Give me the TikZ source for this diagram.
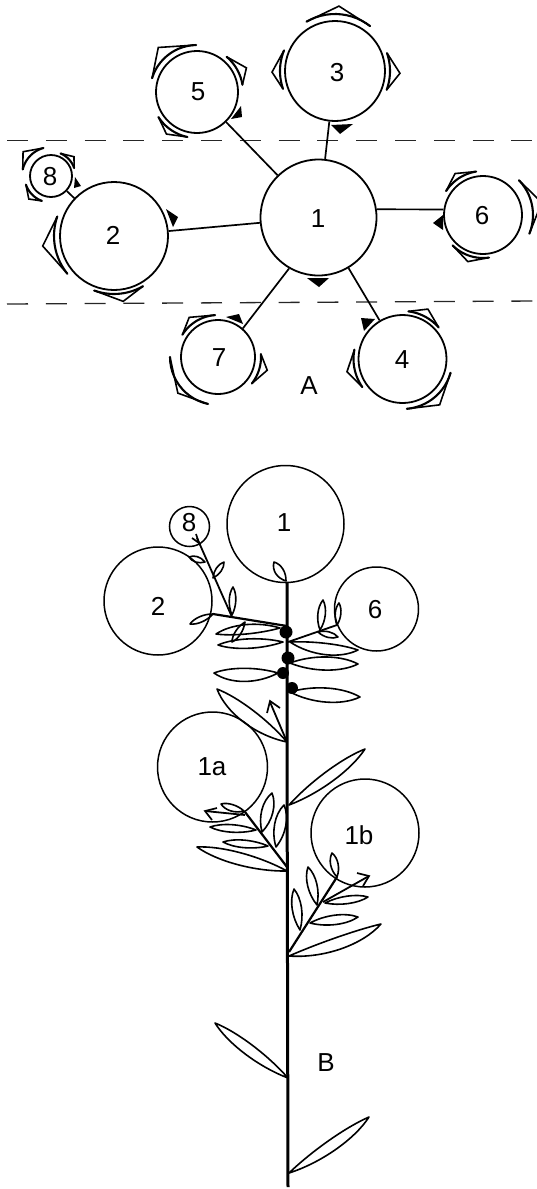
\documentclass[tikz,border=0pt]{standalone}
\usepackage{fontspec}
\setmainfont{Liberation Sans}
\usetikzlibrary{calc}
\tikzset{
  circ/.style={draw=black,circle,line width=1.8pt,inner sep=0pt,fill=none},
  thincirc/.style={draw=black,circle,line width=1.5pt,inner sep=0pt,fill=none},
  lab/.style={font=\fontsize{26}{26}\selectfont,text=black,inner sep=0pt},
  conn/.style={line width=1.7pt,draw=black},
  guide/.style={line width=1.3pt,draw=black!85,dash pattern=on 21pt off 17.8pt},
  brkarc/.style={line width=2.1pt,line cap=round},
  brkv/.style={line width=1.6pt,line join=miter},
  leafs/.style={line width=1.6pt,line join=round},
  stem/.style={line width=3pt,line cap=butt},
  twig/.style={line width=2.2pt},
  vhead/.style={line width=1.7pt,line join=miter},
}
% bracket: cx cy r a1 a2 apexangle apexr (angles anticlockwise on the page)
\newcommand{\Brk}[7]{%
  \draw[brkarc] plot[domain=#4:#5,samples=14] ({#1+#3*cos(\x)},{#2-#3*sin(\x)});
  \draw[brkv] ({#1+#3*cos(#4)},{#2-#3*sin(#4)}) -- ({#1+#7*cos(#6)},{#2-#7*sin(#6)}) -- ({#1+#3*cos(#5)},{#2-#3*sin(#5)});
}
% leaf: bx by tx ty wA wB
\newcommand{\Lf}[6]{%
  \pgfmathsetmacro{\ldx}{#3-#1}\pgfmathsetmacro{\ldy}{#4-#2}%
  \pgfmathsetmacro{\lln}{sqrt(\ldx*\ldx+\ldy*\ldy)}%
  \pgfmathsetmacro{\lnx}{-\ldy/\lln}\pgfmathsetmacro{\lny}{\ldx/\lln}%
  \pgfmathsetmacro{\wa}{1.25*#5}\pgfmathsetmacro{\wb}{1.25*#6}%
  \draw[leafs] (#1,#2) .. controls ({#1+.33*\ldx+\wa*\lnx},{#2+.33*\ldy+\wa*\lny}) and ({#1+.75*\ldx+\wa*\lnx},{#2+.75*\ldy+\wa*\lny}) .. (#3,#4)
   .. controls ({#1+.75*\ldx-\wb*\lnx},{#2+.75*\ldy-\wb*\lny}) and ({#1+.33*\ldx-\wb*\lnx},{#2+.33*\ldy-\wb*\lny}) .. cycle;
}
\begin{document}
\begin{tikzpicture}[x=1pt,y=-1pt]
\useasboundingbox (0,0) rectangle (537,1189);
% --- panel A
\coordinate (g1a) at (7,140.5); \coordinate (g1b) at (537,140.5);
\coordinate (g2a) at (7,304); \coordinate (g2b) at (537,301);
\draw[guide] (g1a) -- (g1b);
\draw[guide] (g2a) -- (g2b);
\node[circ,minimum size=116pt] (a1) at (318.5,217.5) {};
\node[circ,minimum size=108pt] (a2) at (114,236) {};
\node[circ,minimum size=100pt] (a3) at (335,71) {};
\node[circ,minimum size=88pt] (a4) at (402.5,359) {};
\node[circ,minimum size=82pt] (a5) at (197,92) {};
\node[circ,minimum size=78pt] (a6) at (483,215) {};
\node[circ,minimum size=74pt] (a7) at (218,357) {};
\node[circ,minimum size=42pt] (a8) at (51,176) {};
\node[lab] (ta1) at (318,219) {1};
\node[lab] (ta2) at (113,235) {2};
\node[lab] (ta3) at (337,73) {3};
\node[lab] (ta4) at (402,360) {4};
\node[lab] (ta5) at (198,92) {5};
\node[lab] (ta6) at (482,216) {6};
\node[lab] (ta7) at (219,358) {7};
\node[lab] (ta8) at (50,177) {8};
\node[lab] (tA) at (309,386) {A};
\draw[conn] (a1) -- (a2);
\draw[conn] (a1) -- (a3);
\draw[conn] (a1) -- (a4);
\draw[conn] (a1) -- (a5);
\draw[conn] (a1.8) -- (a6.172);
\draw[conn] (a1.240) -- (a7.49);
\draw[conn] (a2) -- (a8);
% brackets
\Brk{197}{92}{47}{163}{91}{131}{59}
\Brk{197}{92}{46}{50}{9}{26}{55}
\Brk{197}{92}{46}{213}{258}{234}{52}
\Brk{51}{176}{29}{167}{105}{139}{37}
\Brk{51}{176}{24.5}{67}{19}{40}{30}
\Brk{51}{176}{26.5}{199}{250}{226}{32}
\Brk{114}{236}{60}{161}{219}{188}{72}
\Brk{114}{236}{58}{250}{300}{278}{66}
\Brk{335}{71}{57}{120}{52}{86.5}{65}
\Brk{335}{71}{55}{158}{199}{181}{63}
\Brk{335}{71}{55}{19}{-20}{-2}{65}
\Brk{483}{215}{44}{147}{99}{124}{50}
\Brk{483}{215}{50}{44}{-22}{12}{60}
\Brk{483}{215}{43}{225}{278}{252}{49}
\Brk{402.5}{359}{48}{83}{41}{63}{56}
\Brk{402.5}{359}{49}{169}{215}{193}{57}
\Brk{402.5}{359}{50}{-16}{-85}{-51}{59}
\Brk{218}{357}{42}{148}{94}{126}{49}
\Brk{218}{357}{48}{180}{258}{222}{54}
\Brk{218}{357}{43}{4}{-38}{-15}{51}
% filled marks
\fill (241,106) -- (231,119) -- (242,117) -- cycle;
\fill (75,177) -- (74,188) -- (81,186) -- cycle;
\fill (166,209) -- (178,217) -- (173,227) -- cycle;
\fill (331,125) -- (353,124) -- (340,134) -- cycle;
\fill (443,215) -- (433,223) -- (443,230) -- cycle;
\fill (307,278) -- (329,278) -- (319,287) -- cycle;
\fill (361,318) -- (375,319) -- (364,331) -- cycle;
\fill (226,317) -- (239,314) -- (243,324) -- cycle;
% --- panel B
\node[thincirc,minimum size=117pt] (b1) at (285.5,524) {};
\node[thincirc,minimum size=40pt] (b8) at (189.5,526.5) {};
\node[thincirc,minimum size=108pt] (b2) at (158,601) {};
\node[thincirc,minimum size=84pt] (b6) at (376.5,609) {};
\node[thincirc,minimum size=110pt] (b1a) at (212.5,767) {};
\node[thincirc,minimum size=108pt] (b1b) at (365,833) {};
\node[lab] (tb1) at (284,523) {1};
\node[lab] (tb8) at (189,523) {8};
\node[lab] (tb2) at (158,606) {2};
\node[lab] (tb6) at (375,610) {6};
\node[lab] (tb1a) at (212,767) {1a};
\node[lab] (tb1b) at (359,835) {1b};
\node[lab] (tB) at (326,1063) {B};
% stem
\draw[stem] (287,582) -- (287,742) -- (288,1187);
% branches
\draw[twig] (287,626) -- (213,614);
\draw[twig,line width=1.8pt] (232,617) -- (197,538);
\draw[twig,line width=1.8pt] (288,642) -- (337,625);
\draw[twig] (287,867) -- (245,812);
\draw[twig,line width=1.8pt] (245,815) -- (205,811);
\draw[twig] (289,952) -- (337,877);
\draw[twig,line width=1.8pt] (323,902) -- (369,876);
\draw[twig,line width=1.8pt] (287,742) -- (270,702);
% arrowheads
\draw[vhead] (192,538) -- (199,543) -- (196,534);
\draw[vhead] (267,713) -- (270,701) -- (280,708);
\draw[vhead] (217,808) -- (205,811) -- (212,820);
\draw[vhead] (357,873) -- (369,876) -- (363,886);
% leaves
\Lf{286}{581}{274}{562}{4}{5}
\Lf{205}{562}{189}{557}{3}{3}
\Lf{213}{578}{224}{562}{3}{3}
\Lf{232}{615}{233}{587}{3.5}{3.5}
\Lf{213}{614}{190}{624}{3}{3}
\Lf{245}{622}{232}{642}{3}{3}
\Lf{280}{628}{216}{634}{7}{3}
\Lf{283}{642}{218}{645}{5}{5}
\Lf{337}{625}{339}{603}{3}{3}
\Lf{320}{630}{323}{600}{4}{4}
\Lf{318}{632}{338}{637}{3}{3}
\Lf{290}{642}{358}{650}{9}{3}
\Lf{290}{663}{358}{664}{7}{7}
\Lf{278}{673}{214}{673}{5}{9}
\Lf{290}{692}{360}{697}{8}{7}
\Lf{287}{742}{217}{689}{5}{11}
\Lf{289}{805}{365}{749}{7}{5}
\Lf{287}{871}{197}{847}{6}{7}
\Lf{268}{846}{223}{842}{4}{4}
\Lf{256}{830}{210}{827}{4}{4}
\Lf{244}{811}{221}{804}{3}{4}
\Lf{262}{832}{272}{793}{6}{6}
\Lf{276}{847}{284}{805}{6}{6}
\Lf{289}{956}{381}{924}{11}{2}
\Lf{310}{923}{358}{917}{5}{5}
\Lf{325}{903}{368}{897}{4}{4}
\Lf{317}{905}{308}{867}{5}{5}
\Lf{300}{930}{294}{889}{5}{5}
\Lf{337}{877}{332}{853}{4}{4}
\Lf{288}{1078}{215}{1023}{5}{7}
\Lf{289}{1173}{369}{1117}{8}{4}
% nodes on stem
\fill (286,632) circle (6.5);
\fill (288,658) circle (6.5);
\fill (283,673) circle (6);
\fill (292,688) circle (6);
\end{tikzpicture}
\end{document}
